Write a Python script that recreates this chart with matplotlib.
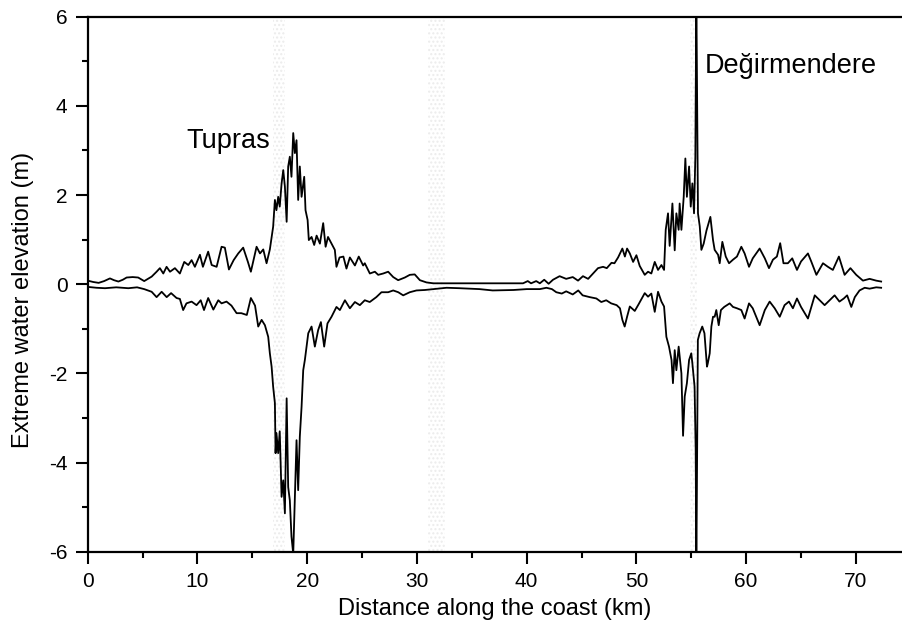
import numpy as np
import matplotlib
matplotlib.use('Agg')
import matplotlib.pyplot as plt

plt.rcParams['font.family'] = ['Liberation Sans', 'DejaVu Sans']
plt.rcParams['axes.unicode_minus'] = False

# upper envelope (km, m)
upper_x = [0.0, 0.5, 1.0, 1.5, 2.03, 2.4, 2.8, 3.2, 3.55, 4.1, 4.6, 5.15, 5.5, 5.83, 6.28, 6.58, 6.89,
           7.19, 7.5, 7.95, 8.4, 8.8, 9.17, 9.47, 9.77, 10.23, 10.5, 10.98, 11.3, 11.75, 12.2, 12.5,
           12.87, 13.3, 13.72, 14.17, 14.6, 14.87, 15.39, 15.7, 16.0, 16.3, 16.6, 16.9, 17.06, 17.2,
           17.36, 17.5, 17.67, 17.82, 17.97, 18.13, 18.27, 18.42, 18.57, 18.73, 18.88, 19.03, 19.18,
           19.33, 19.49, 19.73, 19.85, 20.04, 20.15, 20.4, 20.64, 20.86, 21.16, 21.46, 21.68, 21.9,
           22.22, 22.52, 22.67, 22.95, 23.3, 23.58, 23.89, 24.35, 24.7, 25.1, 25.25, 25.71, 26.17,
           26.47, 26.93, 27.38, 27.84, 28.29, 28.9, 29.35, 29.8, 30.27, 30.87, 31.5, 35.0, 39.67,
           40.1, 40.4, 40.87, 41.2, 41.6, 42.0, 42.4, 43.0, 43.6, 44.2, 44.68, 45.13, 45.6, 46.05,
           46.5, 46.96, 47.3, 47.73, 48.0, 48.33, 48.72, 48.95, 49.15, 49.4, 49.7, 50.0, 50.3, 50.76,
           51.06, 51.36, 51.67, 51.97, 52.28, 52.52, 52.67, 52.88, 53.03, 53.28, 53.49, 53.64, 53.85,
           53.94, 54.1, 54.31, 54.46, 54.6, 54.8, 54.95, 55.1, 55.25, 55.37, 55.46, 55.61, 55.77,
           55.92, 56.13, 56.38, 56.74, 56.98, 57.13, 57.44, 57.59, 57.83, 58.14, 58.44, 58.8, 59.16,
           59.56, 59.86, 60.26, 60.6, 61.23, 61.7, 62.08, 62.44, 62.8, 63.1, 63.4, 63.8, 64.2, 64.63,
           65.0, 65.63, 65.93, 66.4, 67.0, 67.45, 67.9, 68.45, 68.97, 69.5, 70.03, 70.64, 71.25,
           71.85, 72.3]
upper_y = [0.08, 0.05, 0.03, 0.07, 0.13, 0.09, 0.06, 0.1, 0.15, 0.16, 0.15, 0.07, 0.12, 0.17, 0.28,
           0.36, 0.24, 0.39, 0.28, 0.36, 0.24, 0.5, 0.43, 0.54, 0.39, 0.66, 0.39, 0.73, 0.43, 0.39,
           0.84, 0.82, 0.33, 0.54, 0.69, 0.82, 0.5, 0.28, 0.84, 0.69, 0.78, 0.47, 0.78, 1.29, 1.89,
           1.66, 1.96, 1.74, 2.26, 2.56, 2.19, 1.4, 2.64, 2.86, 2.41, 3.39, 2.94, 3.23, 1.89, 2.64,
           1.96, 2.41, 1.66, 1.44, 0.99, 1.06, 0.88, 1.09, 0.91, 1.37, 0.84, 1.06, 0.91, 0.77, 0.39,
           0.6, 0.62, 0.35, 0.6, 0.42, 0.62, 0.42, 0.47, 0.24, 0.28, 0.21, 0.24, 0.28, 0.16, 0.09,
           0.15, 0.21, 0.22, 0.09, 0.04, 0.02, 0.02, 0.02, 0.07, 0.02, 0.07, 0.02, 0.1, 0.01, 0.1,
           0.18, 0.12, 0.16, 0.08, 0.18, 0.12, 0.24, 0.36, 0.39, 0.36, 0.48, 0.47, 0.6, 0.8, 0.62,
           0.8, 0.69, 0.5, 0.65, 0.41, 0.21, 0.28, 0.24, 0.5, 0.32, 0.43, 0.32, 1.22, 1.59, 0.86,
           1.81, 0.76, 1.59, 1.22, 1.81, 1.22, 1.96, 2.82, 1.96, 2.64, 1.74, 2.26, 1.59, 2.86, 6.5,
           1.59, 1.3, 0.77, 0.91, 1.2, 1.51, 0.99, 0.77, 0.66, 0.47, 0.95, 0.62, 0.47, 0.55, 0.62,
           0.84, 0.69, 0.39, 0.58, 0.8, 0.58, 0.36, 0.55, 0.62, 0.92, 0.47, 0.47, 0.58, 0.32, 0.51,
           0.69, 0.51, 0.21, 0.47, 0.39, 0.32, 0.62, 0.21, 0.36, 0.21, 0.08, 0.12, 0.08, 0.06]

# lower envelope (km, m)
lower_x = [0.0, 0.8, 1.58, 2.6, 3.7, 4.5, 5.15, 5.83, 6.28, 6.74, 7.2, 7.6, 8.1, 8.4, 8.7, 9.0, 9.47,
           9.92, 10.3, 10.6, 10.98, 11.45, 11.9, 12.2, 12.65, 13.1, 13.57, 14.0, 14.5, 14.87, 15.25,
           15.54, 15.85, 16.15, 16.45, 16.6, 16.76, 16.9, 17.06, 17.12, 17.2, 17.36, 17.5, 17.67,
           17.82, 17.97, 18.13, 18.27, 18.42, 18.57, 18.73, 18.88, 19.03, 19.18, 19.33, 19.49, 19.64,
           19.79, 20.1, 20.4, 20.7, 21.0, 21.25, 21.55, 21.85, 22.22, 22.67, 22.98, 23.44, 23.89,
           24.35, 24.8, 25.25, 25.7, 26.3, 26.77, 27.38, 27.84, 28.3, 28.75, 29.35, 29.96, 30.72,
           31.5, 32.7, 33.9, 35.7, 36.9, 38.8, 40.0, 41.2, 41.8, 42.3, 42.7, 43.2, 43.6, 44.2, 44.7,
           45.1, 45.75, 46.35, 46.8, 47.25, 47.7, 48.2, 48.5, 48.72, 48.93, 49.15, 49.4, 49.85, 50.2,
           50.76, 51.06, 51.36, 51.67, 51.97, 52.28, 52.52, 52.73, 52.97, 53.2, 53.33, 53.49, 53.64,
           53.85, 54.1, 54.25, 54.4, 54.6, 54.8, 55.0, 55.1, 55.3, 55.4, 55.46, 55.6, 55.76, 56.0,
           56.2, 56.43, 56.5, 56.68, 56.83, 56.98, 57.13, 57.28, 57.5, 57.7, 58.0, 58.5, 58.8, 59.16,
           59.56, 59.86, 60.26, 60.6, 61.23, 61.7, 62.14, 62.6, 63.06, 63.5, 63.9, 64.26, 64.63, 65.0,
           65.63, 66.25, 66.7, 67.15, 67.6, 68.06, 68.5, 68.9, 69.2, 69.58, 69.9, 70.33, 70.8, 71.25,
           71.85, 72.3]
lower_y = [-0.06, -0.08, -0.09, -0.07, -0.09, -0.07, -0.11, -0.17, -0.29, -0.17, -0.29, -0.2, -0.31,
           -0.33, -0.58, -0.43, -0.39, -0.47, -0.36, -0.58, -0.31, -0.57, -0.36, -0.43, -0.39, -0.48,
           -0.65, -0.65, -0.69, -0.31, -0.48, -0.95, -0.8, -0.92, -1.18, -1.55, -1.85, -2.3, -2.67,
           -3.79, -3.34, -3.79, -3.3, -4.77, -4.4, -5.14, -2.56, -4.55, -4.85, -5.66, -6.05, -4.77,
           -3.5, -4.62, -3.42, -2.75, -1.93, -1.7, -1.1, -0.95, -1.4, -1.03, -0.85, -1.4, -0.88,
           -0.73, -0.51, -0.58, -0.36, -0.54, -0.4, -0.47, -0.36, -0.4, -0.29, -0.18, -0.18, -0.14,
           -0.18, -0.25, -0.18, -0.14, -0.13, -0.11, -0.08, -0.09, -0.11, -0.14, -0.13, -0.11, -0.11,
           -0.08, -0.11, -0.18, -0.21, -0.16, -0.23, -0.14, -0.25, -0.29, -0.32, -0.4, -0.36, -0.43,
           -0.47, -0.54, -0.8, -0.95, -0.73, -0.5, -0.6, -0.45, -0.2, -0.28, -0.21, -0.62, -0.17,
           -0.39, -0.5, -1.18, -1.4, -1.7, -2.22, -1.48, -1.93, -1.4, -2.0, -3.4, -2.52, -2.22, -1.7,
           -1.55, -1.78, -2.3, -3.7, -6.5, -1.25, -1.1, -0.95, -1.1, -1.85, -1.78, -1.55, -0.95,
           -0.73, -0.73, -0.58, -0.92, -0.58, -0.51, -0.43, -0.51, -0.54, -0.58, -0.77, -0.43, -0.54,
           -0.92, -0.58, -0.39, -0.54, -0.73, -0.47, -0.39, -0.54, -0.32, -0.51, -0.77, -0.25, -0.36,
           -0.47, -0.36, -0.25, -0.39, -0.32, -0.25, -0.51, -0.29, -0.14, -0.08, -0.1, -0.07, -0.08]

# faint shaded zones along the coast (km)
bands = [(16.9, 18.0), (31.0, 32.6), (54.9, 55.5)]

fig = plt.figure(figsize=(9.02, 6.31), dpi=100)
ax = fig.add_axes([0.0972, 0.1257, 0.9028, 0.8478])

for x0, x1 in bands:
    ax.axvspan(x0, x1, facecolor='none', edgecolor='#ececec', hatch='....', lw=0, zorder=0)

ax.plot(upper_x, upper_y, color='black', lw=1.3)
ax.plot(lower_x, lower_y, color='black', lw=1.3)

ax.set_xlim(0, 74.2)
ax.set_ylim(-6, 6)
ax.set_xticks(np.arange(0, 71, 10))
ax.set_xticks(np.arange(5, 71, 10), minor=True)
ax.set_yticks(np.arange(-6, 7, 2))
ax.set_yticks(np.arange(-5, 6, 2), minor=True)
ax.spines['right'].set_visible(False)
for s in ['left', 'top', 'bottom']:
    ax.spines[s].set_linewidth(1.6)
ax.tick_params(which='major', direction='out', length=8.5, width=1.5, labelsize=15, pad=6)
ax.tick_params(which='minor', direction='out', length=4.5, width=1.5)

ax.set_xlabel('Distance along the coast (km)', fontsize=17, labelpad=5)
ax.set_ylabel('Extreme water elevation (m)', fontsize=17)
ax.yaxis.set_label_coords(-0.066, 0.47)

ax.text(9.0, 3.05, 'Tupras', fontsize=19.5, ha='left', va='baseline')
ax.text(56.2, 4.73, 'Değirmendere', fontsize=19.5, ha='left', va='baseline')

fig.savefig('out.png', dpi=100)
